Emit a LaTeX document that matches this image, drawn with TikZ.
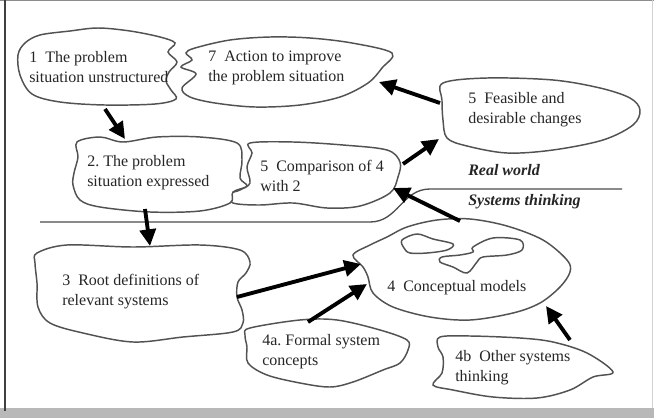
\documentclass[tikz,border=0pt]{standalone}
\usepackage{fontspec}
\setmainfont{Liberation Serif}
\usetikzlibrary{arrows.meta}

\begin{document}
\begin{tikzpicture}[x=0.75pt,y=-0.75pt,
  cloud/.style={draw=black!68,line width=1.1pt,fill=white},
  label/.style={inner sep=0pt,anchor=west,align=left,text=black!85,
    font=\fontsize{12}{15}\selectfont},
  zone/.style={inner sep=0pt,anchor=west,text=black!85,
    font=\fontsize{12}{15}\selectfont\bfseries\itshape},
  flow/.style={line width=2.9pt,black,-{Triangle[length=12.5pt,width=12pt]}},
  divider/.style={draw=black!70,line width=1pt}]

\useasboundingbox (0,0) rectangle (654,418);

% page frame
\fill[white] (0,0) rectangle (654,418);
\fill[black!28] (0,408) rectangle (654,418);
\draw[black!45,line width=0.9pt] (0,0.6) -- (654,0.6);
\draw[black!75,line width=1.6pt] (5,0) -- (5,411);
\draw[black!18,line width=0.8pt] (652.5,0) -- (652.5,408);

% boundary between the real world and systems thinking
\draw[divider] (40,222) -- (370,222) .. controls (398,222) and (402,189) .. (430,189) -- (622,189);

% clouds
\draw[cloud] plot[smooth cycle,tension=0.55] coordinates {
  (195,48) (230,40) (270,37) (310,38) (352,43) (392,53) (382,68) (368,83)
  (340,97) (300,105) (255,107) (215,103) (190,97) (182,88) (196,74) (181,67)
  (192,60) (186,53)};
\draw[cloud] plot[smooth cycle,tension=0.55] coordinates {
  (25,43) (40,35) (70,31) (98,28) (130,31) (160,37) (175,43) (168,52)
  (177,62) (169,72) (166,81) (171,90) (176,99) (155,104) (105,105) (60,102)
  (32,94) (20,75) (18,55)};
\draw[cloud] plot[smooth cycle,tension=0.55] coordinates {
  (443,83) (487,78) (553,80) (600,88) (630,98) (640,110) (633,125) (603,140)
  (553,150) (507,153) (467,146) (447,138) (443,120) (442,100)};
\draw[cloud] plot[smooth cycle,tension=0.55] coordinates {
  (250,143) (293,142) (343,145) (387,150) (400,162) (398,177) (390,193)
  (360,206) (327,208) (293,203) (260,205) (233,203) (230,194) (240,190)
  (250,183) (247,167) (252,153)};
\draw[cloud] plot[smooth cycle,tension=0.55] coordinates {
  (77,142) (100,137) (123,142) (157,137) (200,137) (237,143) (242,160)
  (240,178) (247,186) (233,192) (230,203) (200,211) (150,212) (100,207)
  (80,200) (73,185) (74,173) (78,157)};
\draw[cloud] plot[smooth cycle,tension=0.55] coordinates {
  (37,253) (67,245) (133,247) (200,245) (240,250) (250,262) (246,273)
  (238,282) (237,297) (242,310) (243,323) (233,332) (183,337) (133,342)
  (83,333) (50,323) (38,307) (37,283) (35,263)};
\draw[cloud] plot[smooth cycle,tension=0.55] coordinates {
  (353,255) (370,245) (387,237) (407,227) (437,220) (470,219) (507,226)
  (543,240) (567,260) (570,272) (560,287) (540,303) (513,313) (470,320)
  (430,317) (393,307) (373,293) (368,277) (363,267)};
\draw[cloud] plot[smooth cycle,tension=0.55] coordinates {
  (402,240) (417,234) (433,239) (453,244) (447,250) (427,253) (410,253) (404,248)};
\draw[cloud] plot[smooth cycle,tension=0.55] coordinates {
  (473,247) (493,238) (520,240) (522,250) (507,255) (483,257) (477,262)
  (467,273) (453,267) (440,262) (442,257) (460,255) (473,252)};
\draw[cloud] plot[smooth cycle,tension=0.55] coordinates {
  (250,328) (300,320) (337,320) (380,330) (407,340) (408,350) (400,363)
  (383,370) (353,382) (330,387) (300,383) (267,375) (248,363) (247,347)
  (245,335)};
\draw[cloud] plot[smooth cycle,tension=0.55] coordinates {
  (440,337) (470,336) (520,338) (553,342) (587,353) (613,372) (593,377)
  (570,390) (537,398) (493,397) (453,390) (433,385) (442,373) (443,357)
  (438,347)};

% texts
\node[label] (s1) at (29,67) {1\ \ The problem\\situation unstructured};
\node[label] (s7) at (208,68) {7\ \ Action to improve\\the problem situation};
\node[label] (s6) at (468,110) {5\ \ Feasible and\\desirable changes};
\node[label] (s2) at (87,173) {2.\ The problem\\situation expressed};
\node[label] (s5) at (260,176) {5\ \ Comparison of 4\\with 2};
\node[label] (s3) at (62,292) {3\ \ Root definitions of\\relevant systems};
\node[label] (s4) at (387,288) {4\ \ Conceptual models};
\node[label] (s4a) at (262,352) {4a.\ Formal system\\concepts};
\node[label] (s4b) at (455,368) {4b\ \ Other systems\\thinking};
\node[zone] (rw) at (468,170) {Real world};
\node[zone] (st) at (468,202) {Systems thinking};

% connector end points on the cloud outlines
\coordinate (c1s) at (105,109);  \coordinate (c2n) at (125,139);
\coordinate (c2s) at (145,209);  \coordinate (c3n) at (150,246);
\coordinate (c3e) at (237,297);  \coordinate (c4w) at (361,264);
\coordinate (c4an) at (308,322); \coordinate (c4sw) at (367,284);
\coordinate (c4n) at (460,221);  \coordinate (c5e) at (393,188);
\coordinate (c5ne) at (403,164); \coordinate (c6sw) at (439,139);
\coordinate (c6w) at (440,103);  \coordinate (c7e) at (379,82);
\coordinate (c4bn) at (570,340); \coordinate (c4se) at (546,306);

% flow of the method
\draw[flow] (c1s) -- (c2n);
\draw[flow] (c2s) -- (c3n);
\draw[flow] (c3e) -- (c4w);
\draw[flow] (c4an) -- (c4sw);
\draw[flow] (c4n) -- (c5e);
\draw[flow] (c5ne) -- (c6sw);
\draw[flow] (c6w) -- (c7e);
\draw[flow] (c4bn) -- (c4se);
\end{tikzpicture}
\end{document}
